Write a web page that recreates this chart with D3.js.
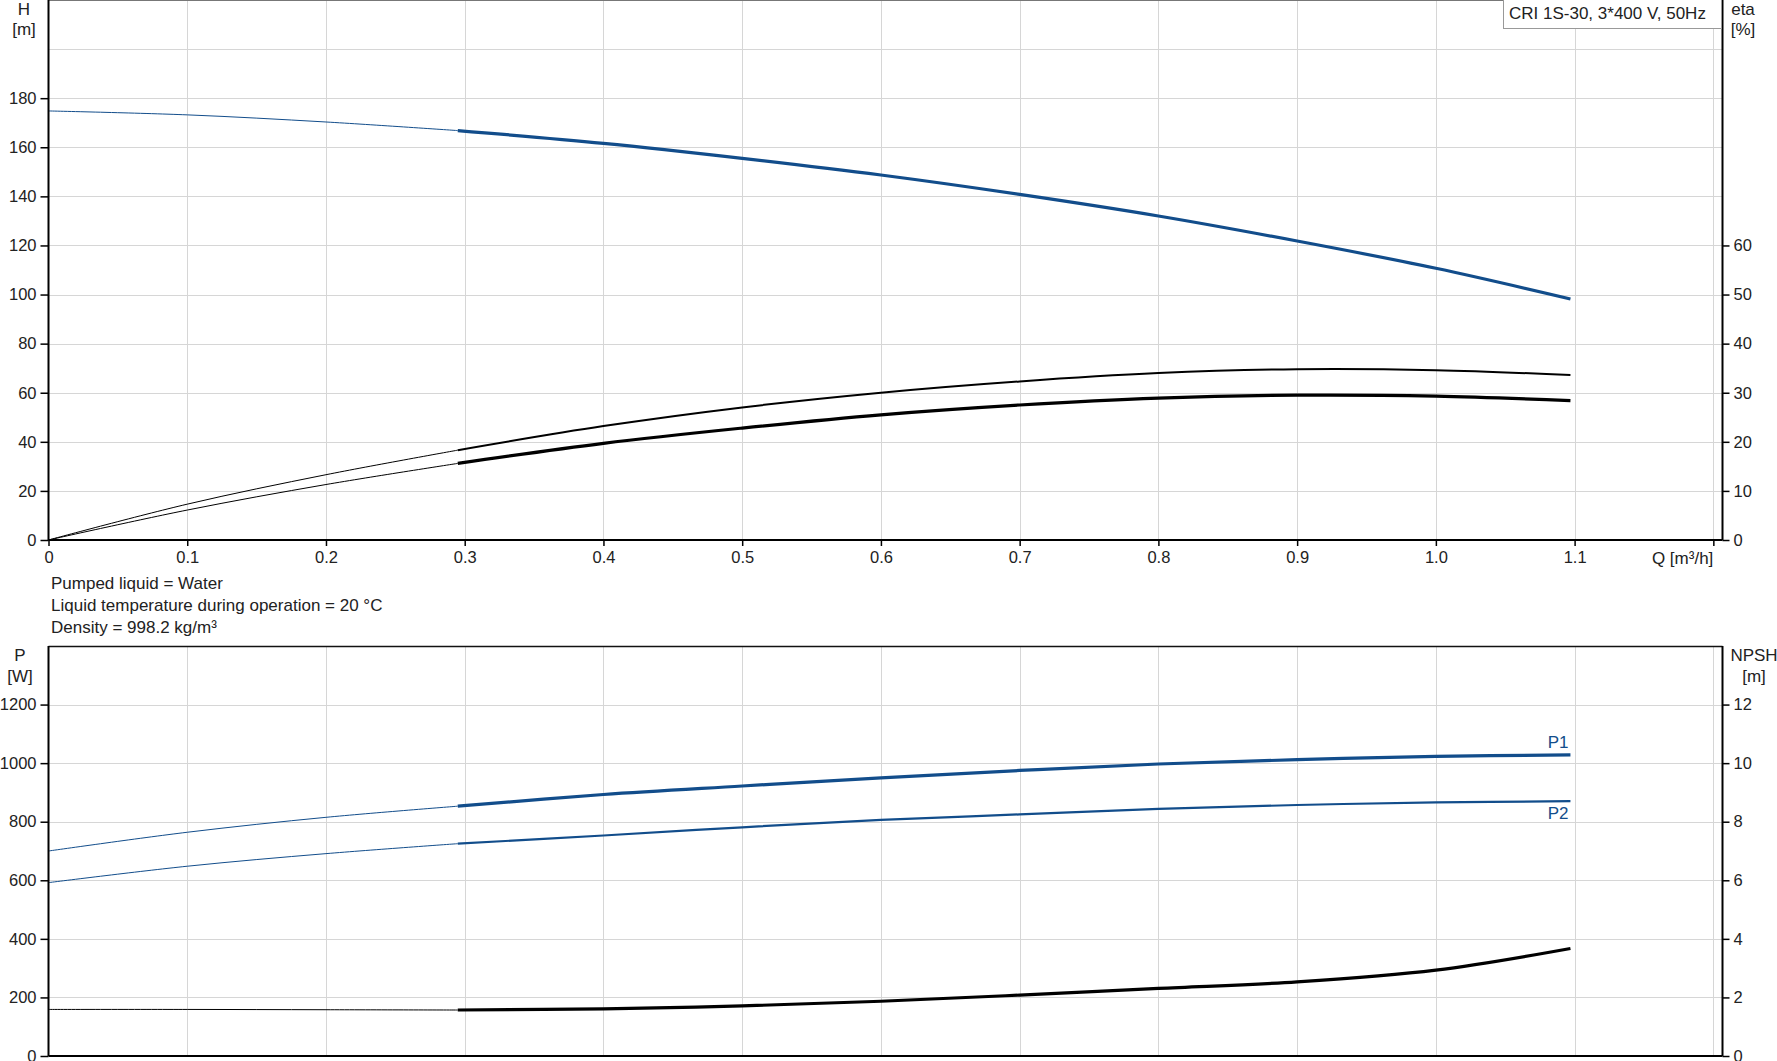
<!DOCTYPE html>
<html>
<head>
<meta charset="utf-8">
<script src="https://cdn.jsdelivr.net/npm/d3@7"></script>
<style>
  body { margin: 0; background: #fff; }
  svg { display: block; font-family: "Liberation Sans", Arial, sans-serif; }
  .tick text { fill: #222; }
</style>
</head>
<body>
<div id="chart"></div>
<script>
// values
const flow     = [0, 0.1, 0.2, 0.295, 0.4, 0.5, 0.6, 0.7, 0.8, 0.9, 1.0, 1.097];
const head     = [174.8, 173.2, 170.3, 166.8, 161.6, 155.5, 148.7, 140.8, 132.0, 121.8, 110.7, 98.2];
const etaPump  = [0, 7.3, 13.3, 18.3, 23.2, 27.0, 30.0, 32.3, 34.0, 34.8, 34.6, 33.6];
const etaTotal = [0, 6.1, 11.3, 15.6, 19.7, 22.8, 25.5, 27.5, 28.9, 29.5, 29.3, 28.4];
const powerP1  = [700, 764, 815, 853, 893, 922, 950, 975, 997, 1012, 1023, 1028];
const powerP2  = [592, 648, 691, 725, 753, 781, 806, 825, 844, 857, 866, 870];
const npshVals = [1.59, 1.59, 1.58, 1.57, 1.61, 1.71, 1.87, 2.08, 2.31, 2.53, 2.93, 3.67];

const qTicks = [0, 0.1, 0.2, 0.3, 0.4, 0.5, 0.6, 0.7, 0.8, 0.9, 1.0, 1.1, 1.2];
const qLabels = ["0", "0.1", "0.2", "0.3", "0.4", "0.5", "0.6", "0.7", "0.8", "0.9", "1.0", "1.1", ""];
const hTicks = [0, 20, 40, 60, 80, 100, 120, 140, 160, 180];
const hGrid = [20, 40, 60, 80, 100, 120, 140, 160, 180, 200];
const etaTicks = [0, 10, 20, 30, 40, 50, 60];
const pTicks = [0, 200, 400, 600, 800, 1000, 1200];
const npshTicks = [0, 2, 4, 6, 8, 10, 12];

const infoLines = ["Pumped liquid = Water", "Liquid temperature during operation = 20 °C", "Density = 998.2 kg/m³"];
const pumpTitle = "CRI 1S-30, 3*400 V, 50Hz";

// thin line up to this index, thick from it on
const thickFrom = 3;

const blue = "#124d8b",
    gridColor = "#d6d6d6",
    textColor = "#222";

const svgWidth = 1777,
    svgHeight = 1061,
    left = 48.5,
    right = 1722.5;

const svg = d3.select("#chart")
    .append("svg")
    .attr("width", svgWidth)
    .attr("height", svgHeight);

// shared flow scale
const x = d3.scaleLinear().domain([0, 1.2066]).range([left, right]);

// top plot scales
const topTop = 0, topBottom = 540;
const yH = d3.scaleLinear().domain([0, 220]).range([topBottom, topTop]);
const yEta = d3.scaleLinear().domain([0, 110]).range([topBottom, topTop]);

// bottom plot scales
const botTop = 646, botBottom = 1056;
const yP = d3.scaleLinear().domain([0, 1400]).range([botBottom, botTop]);
const yN = d3.scaleLinear().domain([0, 14]).range([botBottom, botTop]);

// grid lines
function drawGrid(yScale, yValues, y0, y1) {
    const g = svg.append("g").attr("stroke", gridColor).attr("stroke-width", 1);
    g.selectAll(".vg")
        .data(qTicks.slice(1))
        .join("line")
        .attr("x1", d => Math.round(x(d)) + 0.5)
        .attr("x2", d => Math.round(x(d)) + 0.5)
        .attr("y1", y0)
        .attr("y2", y1);
    g.selectAll(".hg")
        .data(yValues)
        .join("line")
        .attr("x1", left)
        .attr("x2", right)
        .attr("y1", d => Math.round(yScale(d)) + 0.5)
        .attr("y2", d => Math.round(yScale(d)) + 0.5);
}
drawGrid(yH, hGrid, topTop, topBottom);
drawGrid(yP, pTicks.slice(1), botTop, botBottom);

// frame borders
svg.append("line").attr("x1", left).attr("x2", right).attr("y1", 0.5).attr("y2", 0.5)
    .attr("stroke", "#777").attr("stroke-width", 1);
svg.append("line").attr("x1", left).attr("x2", right).attr("y1", botTop + 0.5).attr("y2", botTop + 0.5)
    .attr("stroke", "#111").attr("stroke-width", 1.3);

// curves split into a thin (outside range) and a thick part
const curveLine = (yScale, values) => d3.line()
    .x(d => x(flow[d]))
    .y(d => yScale(values[d]))
    .curve(d3.curveCatmullRom.alpha(0.5));

function drawCurve(yScale, values, color, thinW, thickW) {
    const idx = d3.range(flow.length);
    svg.append("path")
        .attr("d", curveLine(yScale, values)(idx.slice(0, thickFrom + 1)))
        .attr("fill", "none")
        .attr("stroke", color)
        .attr("stroke-width", thinW);
    svg.append("path")
        .attr("d", curveLine(yScale, values)(idx.slice(thickFrom)))
        .attr("fill", "none")
        .attr("stroke", color)
        .attr("stroke-width", thickW);
}

drawCurve(yH, head, blue, 1, 3.2);
drawCurve(yEta, etaPump, "#000", 1, 2);
drawCurve(yEta, etaTotal, "#000", 1, 3.2);
drawCurve(yP, powerP1, blue, 1, 3.2);
drawCurve(yP, powerP2, blue, 1, 2.2);
drawCurve(yN, npshVals, "#000", 1, 3.2);

// axes
function styleAxis(g) {
    g.selectAll(".domain").attr("stroke", "#000").attr("stroke-width", 2);
    g.selectAll(".tick line").attr("stroke", "#000").attr("stroke-width", 1.5);
    g.selectAll(".tick text").attr("font-size", 16.5).attr("fill", textColor);
}
const plain = d3.format("d");

svg.append("g")
    .attr("transform", `translate(${left},0)`)
    .call(d3.axisLeft(yH).tickValues(hTicks).tickSize(8).tickSizeOuter(0).tickPadding(4).tickFormat(plain))
    .call(g => g.select(".domain").attr("d", `M0,${topTop}V${topBottom}`))
    .call(styleAxis);

svg.append("g")
    .attr("transform", `translate(${right},0)`)
    .call(d3.axisRight(yEta).tickValues(etaTicks).tickSize(7).tickSizeOuter(0).tickPadding(4).tickFormat(plain))
    .call(g => g.select(".domain").attr("d", `M0,${topTop}V${topBottom}`))
    .call(styleAxis);

svg.append("g")
    .attr("transform", `translate(0,${topBottom})`)
    .call(d3.axisBottom(x).tickValues(qTicks).tickSize(6).tickSizeOuter(0).tickPadding(5)
        .tickFormat((d, i) => qLabels[i]))
    .call(g => g.select(".domain").attr("d", `M${left},0H${right}`))
    .call(styleAxis);

svg.append("g")
    .attr("transform", `translate(${left},0)`)
    .call(d3.axisLeft(yP).tickValues(pTicks).tickSize(8).tickSizeOuter(0).tickPadding(4).tickFormat(plain))
    .call(g => g.select(".domain").attr("d", `M0,${botTop}V${botBottom}`))
    .call(styleAxis);

svg.append("g")
    .attr("transform", `translate(${right},0)`)
    .call(d3.axisRight(yN).tickValues(npshTicks).tickSize(7).tickSizeOuter(0).tickPadding(4).tickFormat(plain))
    .call(g => g.select(".domain").attr("d", `M0,${botTop}V${botBottom}`))
    .call(styleAxis);

// bottom line of the lower plot
svg.append("line").attr("x1", left).attr("x2", right).attr("y1", botBottom).attr("y2", botBottom)
    .attr("stroke", "#000").attr("stroke-width", 2);

// axis titles
function label(txt, lx, ly, anchor, color) {
    svg.append("text")
        .attr("x", lx)
        .attr("y", ly)
        .attr("text-anchor", anchor || "middle")
        .attr("dominant-baseline", "central")
        .attr("font-size", 17)
        .attr("fill", color || textColor)
        .text(txt);
}
label("H", 24, 9);
label("[m]", 24, 29);
label("eta", 1743, 9);
label("[%]", 1743, 29);
label("Q [m³/h]", x(1.2), 558, "end");
label("P", 20, 655);
label("[W]", 20, 676);
label("NPSH", 1754, 655);
label("[m]", 1754, 676);

// pumped liquid info
infoLines.forEach((t, i) => label(t, 51, 583 + i * 22, "start"));

// series labels at the end of P1 / P2
const last = flow.length - 1;
label("P1", x(flow[last]) - 2, yP(powerP1[last]) - 12, "end", blue);
label("P2", x(flow[last]) - 2, yP(powerP2[last]) + 12, "end", blue);

// pump name box
svg.append("rect")
    .attr("x", 1503.5)
    .attr("y", -1)
    .attr("width", 218)
    .attr("height", 29.5)
    .attr("fill", "#fff")
    .attr("stroke", "#999")
    .attr("stroke-width", 1);
label(pumpTitle, 1509, 13, "start");
</script>
</body>
</html>
